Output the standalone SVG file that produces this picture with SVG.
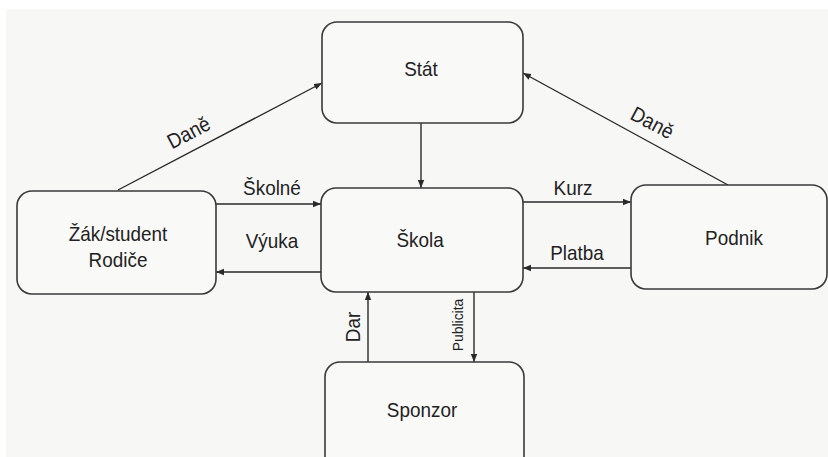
<svg xmlns="http://www.w3.org/2000/svg" width="828" height="457" viewBox="0 0 828 457">
<style>
.box{fill:#f9f9f8;stroke:#3a3a3a;stroke-width:1.6}
.t{font-family:"Liberation Sans",Arial,sans-serif;font-size:21px;fill:#222;text-anchor:middle}
.s{font-size:15.5px}
.c{stroke:#2a2a2a;stroke-width:1.4;fill:none}
</style>
<defs>
<marker id="ah" viewBox="0 0 10 10" refX="10" refY="5" markerWidth="8" markerHeight="8" markerUnits="userSpaceOnUse" orient="auto">
<path d="M0,1 L10,5 L0,9 z" fill="#2a2a2a"/>
</marker>
</defs>
<rect x="0" y="0" width="828" height="457" fill="#ffffff"/>
<rect x="6" y="9" width="822" height="448" fill="#f7f7f6"/>
<g id="connectors">
<line class="c" x1="118" y1="190" x2="322" y2="83" marker-end="url(#ah)"/>
<line class="c" x1="728" y1="185" x2="523" y2="73" marker-end="url(#ah)"/>
<line class="c" x1="421" y1="123" x2="421" y2="188" marker-end="url(#ah)"/>
<line class="c" x1="216" y1="204" x2="321" y2="204" marker-end="url(#ah)"/>
<line class="c" x1="321" y1="272" x2="216" y2="272" marker-end="url(#ah)"/>
<line class="c" x1="523" y1="202" x2="631" y2="202" marker-end="url(#ah)"/>
<line class="c" x1="631" y1="268" x2="523" y2="268" marker-end="url(#ah)"/>
<line class="c" x1="368" y1="362" x2="368" y2="292" marker-end="url(#ah)"/>
<line class="c" x1="474" y1="292" x2="474" y2="362" marker-end="url(#ah)"/>
<text class="t" transform="translate(192,139) rotate(-28) scale(0.9,1)">Daně</text>
<text class="t" transform="translate(649,129) rotate(28) scale(0.9,1)">Daně</text>
<text class="t" transform="translate(272,195) scale(0.9,1)">Školné</text>
<text class="t" transform="translate(272,248) scale(0.9,1)">Výuka</text>
<text class="t" transform="translate(573,195) scale(0.9,1)">Kurz</text>
<text class="t" transform="translate(577,260) scale(0.9,1)">Platba</text>
<text class="t" transform="translate(360,327) rotate(-90) scale(0.9,1)">Dar</text>
<text class="t s" transform="translate(463,325) rotate(-90) scale(0.9,1)">Publicita</text>
</g>
<g id="stat">
<rect class="box" x="322" y="22" width="201" height="101" rx="15"/>
<text class="t" transform="translate(421,76) scale(0.9,1)">Stát</text>
</g>
<g id="zak">
<rect class="box" x="17" y="191" width="199" height="103" rx="15"/>
<text class="t" transform="translate(118,241) scale(0.9,1)">Žák/student</text>
<text class="t" transform="translate(118,267) scale(0.9,1)">Rodiče</text>
</g>
<g id="skola">
<rect class="box" x="321" y="188" width="202" height="104" rx="15"/>
<text class="t" transform="translate(420,247) scale(0.9,1)">Škola</text>
</g>
<g id="podnik">
<rect class="box" x="631" y="185" width="196" height="104" rx="15"/>
<text class="t" transform="translate(734,245) scale(0.9,1)">Podnik</text>
</g>
<g id="sponzor">
<rect class="box" x="325" y="362" width="199" height="110" rx="15"/>
<text class="t" transform="translate(422,417) scale(0.9,1)">Sponzor</text>
</g>
</svg>
